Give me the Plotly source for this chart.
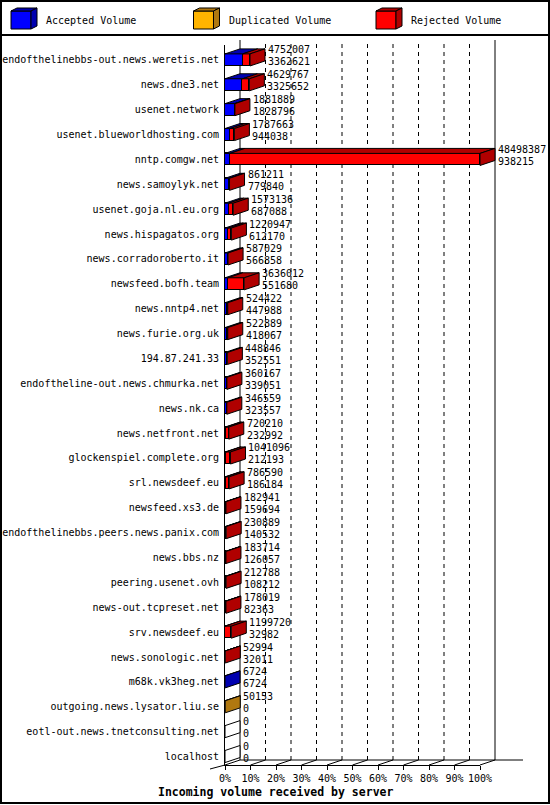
import plotly.graph_objects as go

servers = [
    "endofthelinebbs-out.news.weretis.net", "news.dne3.net", "usenet.network",
    "usenet.blueworldhosting.com", "nntp.comgw.net", "news.samoylyk.net",
    "usenet.goja.nl.eu.org", "news.hispagatos.org", "news.corradoroberto.it",
    "newsfeed.bofh.team", "news.nntp4.net", "news.furie.org.uk", "194.87.241.33",
    "endoftheline-out.news.chmurka.net", "news.nk.ca", "news.netfront.net",
    "glockenspiel.complete.org", "srl.newsdeef.eu", "newsfeed.xs3.de",
    "endofthelinebbs.peers.news.panix.com", "news.bbs.nz", "peering.usenet.ovh",
    "news-out.tcpreset.net", "srv.newsdeef.eu", "news.sonologic.net",
    "m68k.vk3heg.net", "outgoing.news.lysator.liu.se",
    "eotl-out.news.tnetconsulting.net", "localhost",
]
total_volume = [
    4752007, 4629767, 1881889, 1787663, 48498387, 861211, 1573136, 1220947,
    587029, 3636012, 524422, 522889, 448846, 360167, 346559, 720210, 1041096,
    786590, 182941, 230889, 183714, 212788, 178019, 1199720, 52994, 6724,
    50153, 0, 0,
]
accepted_volume = [
    3362621, 3325652, 1828796, 944038, 938215, 779840, 687088, 612170,
    566858, 551680, 447988, 418067, 352551, 339051, 323557, 232992, 212193,
    186184, 159694, 140532, 126057, 108212, 82363, 32982, 32011, 6724,
    0, 0, 0,
]
duplicated_volume = [0] * 26 + [50153, 0, 0]
rejected_volume = [t - a - d for t, a, d in zip(total_volume, accepted_volume, duplicated_volume)]

tick_vals = list(range(0, 101, 10))
tick_text = [f"{v}%" for v in tick_vals]

series = [
    ("Accepted Volume", accepted_volume, "#0000ff", "#0000b0"),
    ("Duplicated Volume", duplicated_volume, "#ffb400", "#b07810"),
    ("Rejected Volume", rejected_volume, "#ff0000", "#b00000"),
]

FONT = "DejaVu Sans Mono"
W, H = 550, 805
PL, PR, PT, PB = 225, 480, 45, 765
Y_LO, Y_HI = 28.34, -0.6
BAR_W = 0.485
DX = 15 / (PR - PL)      # depth in paper units
DY = 5 / (PB - PT)

vmax = max(total_volume)
pct = lambda v: v / vmax * 100
rows = list(range(len(servers)))


def xp(v):
    return v / 100


def yp(v):
    return (Y_LO - v) / (Y_LO - Y_HI)


def px(x, y):
    # pixel position on the page -> paper coords
    return (x - PL) / (PR - PL), (PB - y) / (PB - PT)


def poly(pts, fill, lw=1):
    d = "M " + " L ".join(f"{x:.5f},{y:.5f}" for x, y in pts) + " Z"
    return dict(type="path", path=d, xref="paper", yref="paper",
                fillcolor=fill, line=dict(color="black", width=lw), layer="above")


def line(x0, y0, x1, y1, dash="solid"):
    return dict(type="line", xref="paper", yref="paper", x0=x0, y0=y0, x1=x1, y1=y1,
                line=dict(color="black", width=1, dash=dash), layer="below")


fig = go.Figure()
for name, vals, col, dark in series:
    fig.add_trace(go.Bar(
        y=rows, x=[pct(v) for v in vals], orientation="h", name=name,
        width=BAR_W, marker=dict(color=col, line=dict(color="black", width=1)),
        hoverinfo="skip", showlegend=False,
    ))

shapes = []
# back wall, grid and floor
shapes.append(line(DX, DY, DX, 1 + DY))
shapes.append(line(1 + DX, DY, 1 + DX, 1 + DY))
for v in tick_vals[1:-1]:
    shapes.append(line(xp(v) + DX, DY, xp(v) + DX, 1 + DY, dash="4px,4px"))
shapes.append(line(DX, DY, px(523, 0)[0], DY))
for v in tick_vals:
    shapes.append(line(xp(v), 0, xp(v) + DX, DY))
shapes.append(line(-DX, -DY * 0.8, 0, 0))

# 3D faces of the bars
for i in rows:
    top = i - BAR_W / 2
    bot = i + BAR_W / 2
    start = 0
    last_dark = "white"
    for name, vals, col, dark in series:
        w = pct(vals[i])
        if w > 0:
            x0, x1 = xp(start), xp(start + w)
            shapes.append(poly([(x0, yp(top)), (x1, yp(top)),
                                (x1 + DX, yp(top) + DY), (x0 + DX, yp(top) + DY)], dark))
            start += w
            last_dark = dark
    xe = xp(start)
    shapes.append(poly([(xe, yp(top)), (xe + DX, yp(top) + DY),
                        (xe + DX, yp(bot) + DY), (xe, yp(bot))], last_dark))

# value labels
annotations = []
for i in rows:
    xa = xp(pct(total_volume[i])) + DX
    for txt, shift in ((total_volume[i], 10), (accepted_volume[i], -2)):
        annotations.append(dict(x=xa, y=yp(i), xref="paper", yref="paper", text=str(txt),
                                showarrow=False, xanchor="left", yanchor="middle",
                                xshift=1, yshift=shift,
                                font=dict(family=FONT, size=10, color="black")))

# legend drawn as 3D boxes
for k, (name, vals, col, dark) in enumerate(series):
    ox = 182.5 * k
    a = px(11 + ox, 29); b = px(31 + ox, 11)
    shapes.append(dict(type="rect", xref="paper", yref="paper", x0=a[0], y0=a[1], x1=b[0], y1=b[1],
                       fillcolor=col, line=dict(color="black", width=1), layer="above"))
    shapes.append(poly([px(11 + ox, 11), px(31 + ox, 11), px(37 + ox, 8), px(17 + ox, 8)], dark))
    shapes.append(poly([px(31 + ox, 11), px(37 + ox, 8), px(37 + ox, 26), px(31 + ox, 29)], dark))
    tx, ty = px(44 + ox, 21)
    annotations.append(dict(x=tx, y=ty, xref="paper", yref="paper", text=name, showarrow=False,
                            xanchor="left", yanchor="middle",
                            font=dict(family=FONT, size=10, color="black")))

# separator and outer frame
s0 = px(0, 35); s1 = px(W, 35)
shapes.append(dict(type="line", xref="paper", yref="paper", x0=s0[0], y0=s0[1], x1=s1[0], y1=s1[1],
                   line=dict(color="black", width=2)))
f0 = px(1, 803); f1 = px(549, 1)
shapes.append(dict(type="rect", xref="paper", yref="paper", x0=f0[0], y0=f0[1], x1=f1[0], y1=f1[1],
                   line=dict(color="black", width=2)))

tx, ty = px(275, 792)
annotations.append(dict(x=tx, y=ty, xref="paper", yref="paper",
                        text="<b>Incoming volume received by server</b>", showarrow=False,
                        xanchor="center", yanchor="middle",
                        font=dict(family=FONT, size=11.5, color="black")))

fig.update_layout(
    width=W, height=H,
    margin=dict(l=PL, r=W - PR, t=PT, b=H - PB, pad=0, autoexpand=False),
    paper_bgcolor="white", plot_bgcolor="white",
    barmode="stack", bargap=0,
    font=dict(family=FONT, size=10, color="black"),
    shapes=shapes, annotations=annotations,
    xaxis=dict(range=[0, 100], tickvals=tick_vals, ticktext=tick_text, automargin=False,
               showgrid=False, zeroline=False, showline=True, linecolor="black",
               ticks="outside", ticklen=4, tickcolor="black",
               tickfont=dict(family=FONT, size=10, color="black"), fixedrange=True),
    yaxis=dict(range=[Y_LO, Y_HI], tickvals=rows, ticktext=servers, automargin=False,
               showgrid=False, zeroline=False, showline=True, linecolor="black",
               ticks="", ticklabelstandoff=3,
               tickfont=dict(family=FONT, size=10, color="black"), fixedrange=True),
    showlegend=False,
)

# page margin off so the figure sits at the window corner
fig.write_html("out.html", config={"displayModeBar": False},
               post_script="document.body.style.margin='0';document.body.style.overflow='hidden';")
